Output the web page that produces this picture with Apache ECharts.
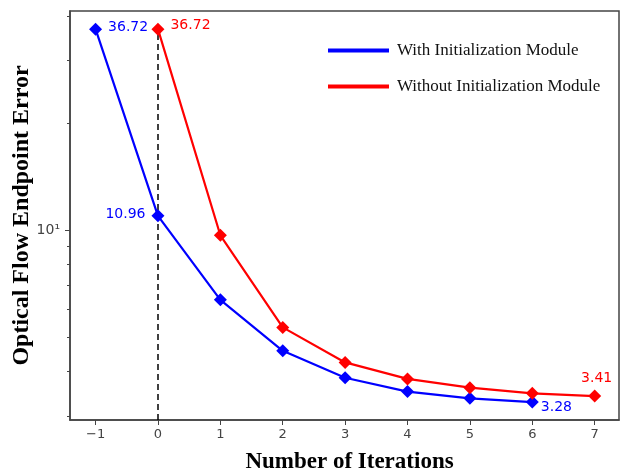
<!DOCTYPE html>
<html>
<head>
<meta charset="utf-8">
<script src="https://cdn.jsdelivr.net/npm/echarts@6/dist/echarts.min.js"></script>
<style>
  html, body { margin: 0; padding: 0; background: #fff; }
  #chart { width: 622px; height: 471px; }
</style>
</head>
<body>
<div id="chart"></div>
<script>
// data
const iterations = [-1, 0, 1, 2, 3, 4, 5, 6, 7];
const withInit = [36.72, 10.96, 6.36, 4.57, 3.84, 3.51, 3.36, 3.28, null];
const withoutInit = [null, 36.72, 9.66, 5.32, 4.24, 3.81, 3.60, 3.47, 3.41];
const xTicks = [-1, 0, 1, 2, 3, 4, 5, 6, 7];
const yMinorTicks = [3, 4, 5, 6, 7, 8, 9, 20, 30, 40];
const yMajorTicks = [10];
const yMin = 2.92;
const yMax = 41.3;

const blue = "#0000ff";
const red = "#ff0000";

const toPairs = (vals) =>
  iterations.map((x, i) => [x, vals[i]]).filter((p) => p[1] != null);

const labelFont = { fontFamily: "DejaVu Sans", fontSize: 14 };

// which points carry a value label, and where
const blueLabels = {
  "-1": { position: "right", distance: 6, offset: [0, -2] },
  "0": { position: "left", distance: 6, offset: [0, -1] },
  "6": { position: "right", distance: 2, offset: [0, 5] },
};
const redLabels = {
  "0": { position: "right", distance: 6, offset: [0, -4] },
  "7": { position: "top", distance: 4, offset: [2, 0] },
};

const buildData = (vals, labels, color) =>
  toPairs(vals).map((p) => {
    const l = labels[String(p[0])];
    if (!l) return { value: p };
    return {
      value: p,
      label: Object.assign({ show: true, color: color, formatter: (d) => d.value[1].toFixed(2) }, labelFont, l),
    };
  });

const axisColor = "#444";

const chart = echarts.init(document.getElementById("chart"));
chart.setOption({
  animation: false,
  grid: {
    left: 70,
    right: 3,
    top: 11,
    bottom: 51,
    outerBoundsMode: "none",
    containLabel: false,
    show: true,
    borderColor: axisColor,
    borderWidth: 1.5,
  },
  legend: {
    orient: "vertical",
    left: 323,
    top: 37,
    itemWidth: 61,
    itemHeight: 4,
    itemGap: 19,
    icon: "rect",
    textStyle: {
      fontFamily: "Liberation Serif",
      fontSize: 17,
      color: "#111",
      padding: [0, 0, 0, 3],
    },
  },
  xAxis: {
    type: "value",
    min: -1.41,
    max: 7.39,
    name: "Number of Iterations",
    nameLocation: "middle",
    nameGap: 31,
    nameTextStyle: {
      fontFamily: "Liberation Serif",
      fontWeight: "bold",
      fontSize: 23,
      color: "#000",
      padding: [0, 0, 0, 10],
    },
    axisLine: { show: true, onZero: false, lineStyle: { color: axisColor, width: 1.5 } },
    axisTick: { show: true, length: 5, customValues: xTicks, lineStyle: { color: axisColor } },
    axisLabel: {
      customValues: xTicks,
      fontFamily: "DejaVu Sans",
      fontSize: 13,
      color: "#444",
      margin: 8,
      formatter: (v) => (v < 0 ? "\u2212" + -v : String(v)),
    },
    splitLine: { show: false },
  },
  yAxis: [
    {
      type: "log",
      logBase: 10,
      min: yMin,
      max: yMax,
      position: "left",
      name: "Optical Flow Endpoint Error",
      nameLocation: "middle",
      nameGap: 36,
      nameTextStyle: {
        fontFamily: "Liberation Serif",
        fontWeight: "bold",
        fontSize: 24,
        color: "#000",
      },
      axisLine: { show: true, onZero: false, lineStyle: { color: axisColor, width: 1.5 } },
      axisTick: { show: true, length: 3, customValues: yMinorTicks, lineStyle: { color: axisColor } },
      axisLabel: { show: false },
      splitLine: { show: false },
    },
    {
      type: "log",
      logBase: 10,
      min: yMin,
      max: yMax,
      position: "left",
      axisLine: { show: false, onZero: false },
      axisTick: { show: true, length: 5, customValues: yMajorTicks, lineStyle: { color: axisColor } },
      axisLabel: {
        customValues: yMajorTicks,
        fontFamily: "DejaVu Sans",
        fontSize: 14,
        color: "#444",
        margin: 10,
        formatter: (v) => (Math.abs(v - 10) < 1e-6 ? "10\u00b9" : ""),
      },
      splitLine: { show: false },
    },
  ],
  series: [
    {
      name: "With Initialization Module",
      type: "line",
      data: buildData(withInit, blueLabels, blue),
      color: blue,
      lineStyle: { width: 2.2, color: blue },
      symbol: "diamond",
      symbolSize: [13, 13],
      itemStyle: { color: blue },
      z: 3,
    },
    {
      name: "Without Initialization Module",
      type: "line",
      data: buildData(withoutInit, redLabels, red),
      color: red,
      lineStyle: { width: 2.2, color: red },
      symbol: "diamond",
      symbolSize: [13, 13],
      itemStyle: { color: red },
      z: 3,
      markLine: {
        silent: true,
        symbol: "none",
        label: { show: false },
        lineStyle: { color: "#000", type: [6, 4], width: 1.5 },
        data: [[{ coord: [0, yMin] }, { coord: [0, withoutInit[1]] }]],
        z: 1,
      },
    },
  ],
});
</script>
</body>
</html>
